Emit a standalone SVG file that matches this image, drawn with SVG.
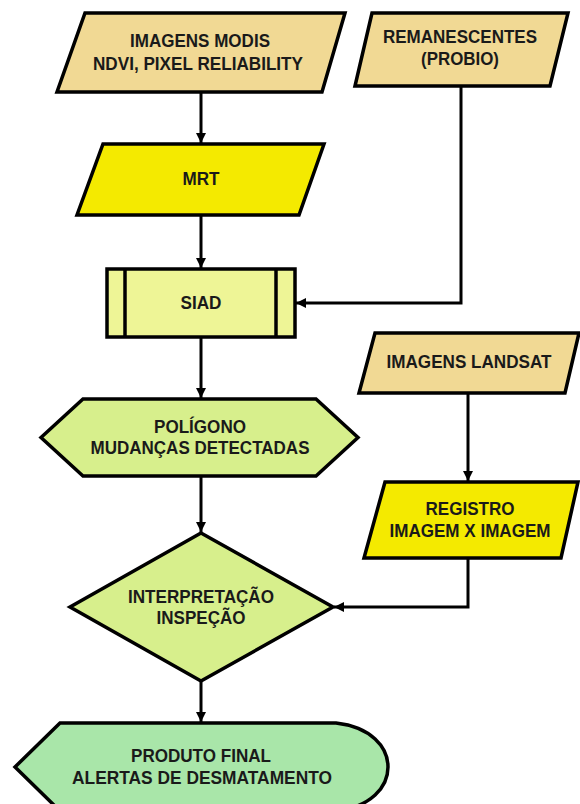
<svg xmlns="http://www.w3.org/2000/svg" width="580" height="804" viewBox="0 0 580 804">
<defs>
<marker id="ah" viewBox="0 0 10 10" refX="10" refY="5" markerWidth="10" markerHeight="10" markerUnits="userSpaceOnUse" orient="auto">
<path d="M0,0 L10,5 L0,10 z" fill="#000"/>
</marker>
<style>
.sh{stroke:#000;stroke-width:3.5;stroke-linejoin:miter}
.tan{fill:#F1D994}
.yel{fill:#F4EA00}
.lyel{fill:#EEF596}
.lgrn{fill:#D7EF8C}
.grn{fill:#A9E6A9}
text{font-family:"Liberation Sans",Arial,sans-serif;font-weight:bold;font-size:18.5px;fill:#1a1a1a;text-anchor:middle}
.cn{fill:none;stroke:#000;stroke-width:3}
</style>
</defs>
<rect width="580" height="804" fill="#fff"/>
<g id="connectors">
<line class="cn" x1="201" y1="92" x2="201" y2="143" marker-end="url(#ah)"/>
<line class="cn" x1="201" y1="215" x2="201" y2="268" marker-end="url(#ah)"/>
<polyline class="cn" points="461,86 461,303 296,303" marker-end="url(#ah)"/>
<line class="cn" x1="201" y1="337" x2="201" y2="398" marker-end="url(#ah)"/>
<line class="cn" x1="468" y1="393" x2="468" y2="481" marker-end="url(#ah)"/>
<line class="cn" x1="201" y1="476" x2="201" y2="532" marker-end="url(#ah)"/>
<polyline class="cn" points="468,558 468,607 334,607" marker-end="url(#ah)"/>
<line class="cn" x1="201" y1="681" x2="201" y2="722" marker-end="url(#ah)"/>
</g>
<g id="modis">
<polygon class="sh tan" points="85,13 345,13 322,92 57,92"/>
<text x="200" y="47" textLength="140" lengthAdjust="spacingAndGlyphs">IMAGENS MODIS</text>
<text x="198" y="70" textLength="210" lengthAdjust="spacingAndGlyphs">NDVI, PIXEL RELIABILITY</text>
</g>
<g id="remanescentes">
<polygon class="sh tan" points="372,13 568,13 550,86 355,86"/>
<text x="460" y="43" textLength="154" lengthAdjust="spacingAndGlyphs">REMANESCENTES</text>
<text x="460" y="65" textLength="78" lengthAdjust="spacingAndGlyphs">(PROBIO)</text>
</g>
<g id="mrt">
<polygon class="sh yel" points="103,144 324,144 299,215 77,215"/>
<text x="201" y="185" textLength="37" lengthAdjust="spacingAndGlyphs">MRT</text>
</g>
<g id="siad">
<rect class="sh lyel" x="107" y="269" width="188" height="68"/>
<line x1="125" y1="269" x2="125" y2="337" stroke="#000" stroke-width="3.5"/>
<line x1="276" y1="269" x2="276" y2="337" stroke="#000" stroke-width="3.5"/>
<text x="201" y="309" textLength="41" lengthAdjust="spacingAndGlyphs">SIAD</text>
</g>
<g id="poligono">
<polygon class="sh lgrn" points="41,437.5 83,399 316,399 358,437.5 316,476 83,476"/>
<text x="200" y="433" textLength="92" lengthAdjust="spacingAndGlyphs">POLÍGONO</text>
<text x="200" y="454" textLength="219" lengthAdjust="spacingAndGlyphs">MUDANÇAS DETECTADAS</text>
</g>
<g id="landsat">
<polygon class="sh tan" points="375,333 579,333 565,393 359,393"/>
<text x="469" y="368" textLength="165" lengthAdjust="spacingAndGlyphs">IMAGENS LANDSAT</text>
</g>
<g id="registro">
<polygon class="sh yel" points="385,482 578,482 561,558 364,558"/>
<text x="470" y="515" textLength="89" lengthAdjust="spacingAndGlyphs">REGISTRO</text>
<text x="470" y="537" textLength="161" lengthAdjust="spacingAndGlyphs">IMAGEM X IMAGEM</text>
</g>
<g id="interpretacao">
<polygon class="sh lgrn" points="201,533 333,607 201,681 70,607"/>
<text x="201" y="603" textLength="146" lengthAdjust="spacingAndGlyphs">INTERPRETAÇÃO</text>
<text x="201" y="624" textLength="89" lengthAdjust="spacingAndGlyphs">INSPEÇÃO</text>
</g>
<g id="produto">
<path class="sh grn" d="M15,767 L60,723 L336,723 C371,727 388,747 388,767 C388,787 371,807 336,811 L60,811 Z"/>
<text x="201" y="762" textLength="140" lengthAdjust="spacingAndGlyphs">PRODUTO FINAL</text>
<text x="202" y="784" textLength="260" lengthAdjust="spacingAndGlyphs">ALERTAS DE DESMATAMENTO</text>
</g>
</svg>
